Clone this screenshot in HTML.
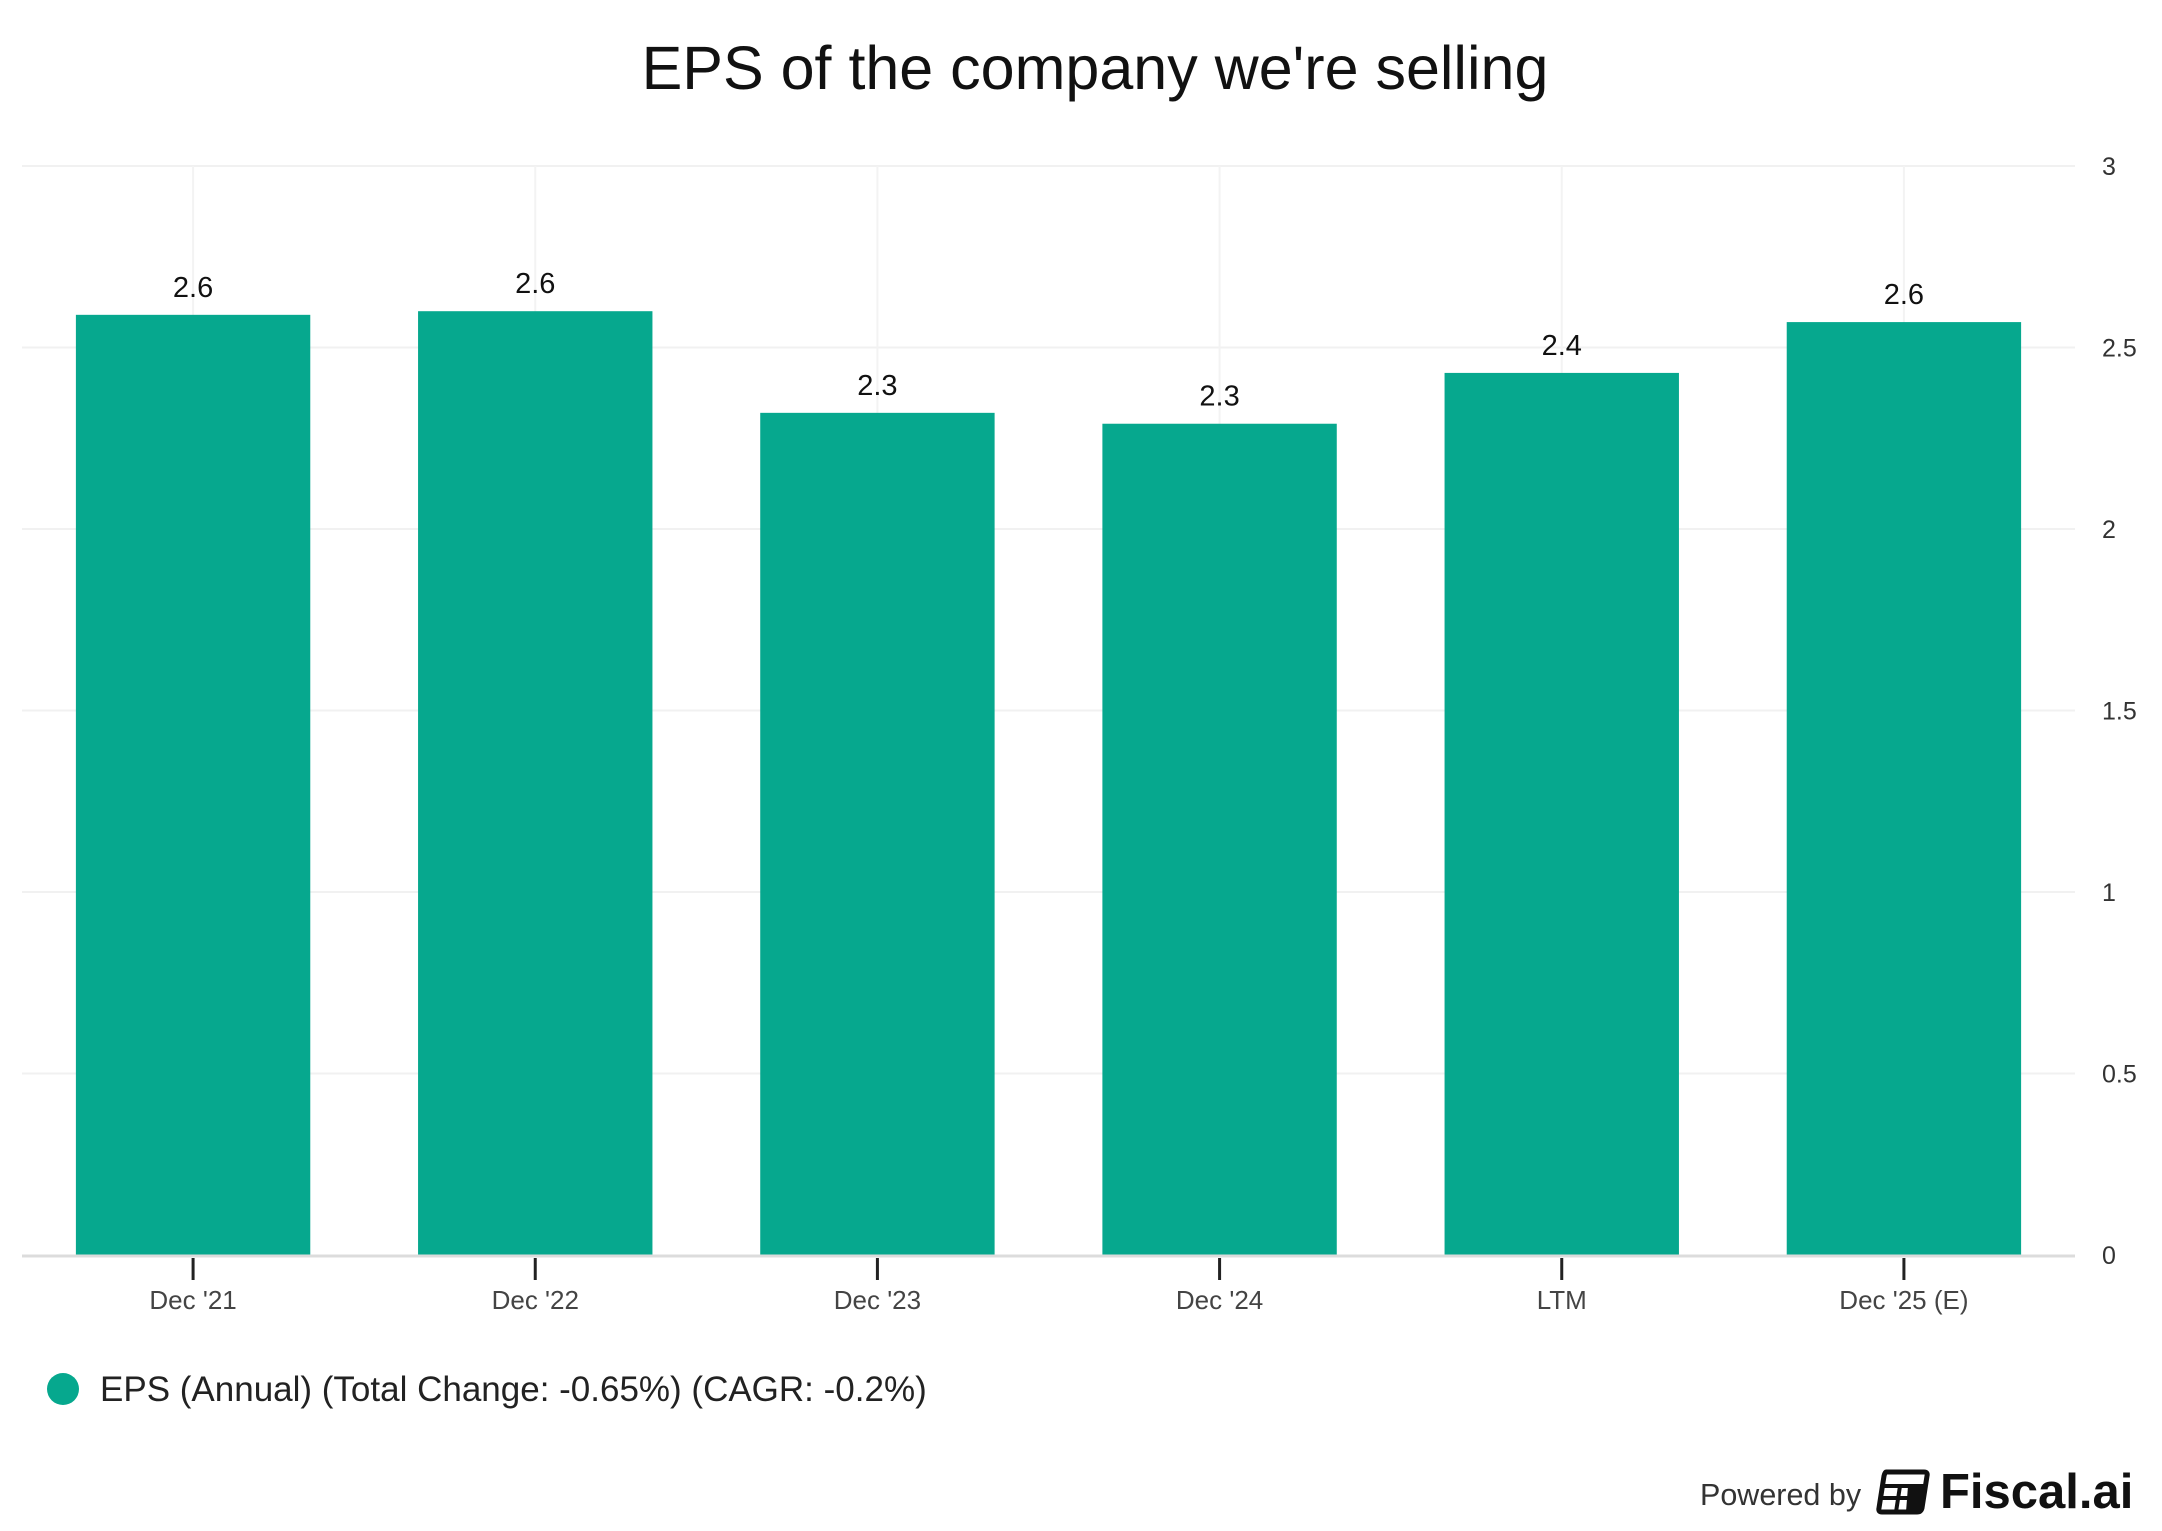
<!DOCTYPE html>
<html><head><meta charset="utf-8"><style>
html,body{margin:0;padding:0;background:#fff;}
body{width:2162px;height:1526px;overflow:hidden;font-family:"Liberation Sans",Arial,sans-serif;}
</style></head><body>
<svg id="chart" width="2162" height="1526" xmlns="http://www.w3.org/2000/svg" font-family="Liberation Sans, Arial, sans-serif">
<text x="1095" y="89" text-anchor="middle" font-size="61" fill="#111">EPS of the company we're selling</text>
<g id="grid"></g><g id="bars"></g><g id="axes"></g>
<g>
<circle cx="63" cy="1389" r="16" fill="#06a88e"/>
<text x="100" y="1401" font-size="35" fill="#222">EPS (Annual) (Total Change: -0.65%) (CAGR: -0.2%)</text>
</g>
<text x="1700" y="1505" font-size="30.5" fill="#333">Powered by</text>
<g transform="translate(1878,1470)">
<path d="M8 2 H46 Q50 2 49 6 L44 38 Q43 42 39 42 H4 Q0 42 1 38 L6 6 Q7 2 8 2 Z" fill="none" stroke="#111" stroke-width="5"/>
<path d="M6 16 H47 M4 28 H45 M22 16 L18 42 M34 16 L30 42" stroke="#111" stroke-width="4" fill="none"/>
<path d="M30 16 H47 L44 42 H28 Z" fill="#111"/>
</g>
<text x="1940" y="1508" font-size="49" font-weight="bold" fill="#111">Fiscal.ai</text>
</svg>
<script>
const categories=["Dec '21","Dec '22","Dec '23","Dec '24","LTM","Dec '25 (E)"];
const values=[2.59,2.60,2.32,2.29,2.43,2.57];
const valueLabels=["2.6","2.6","2.3","2.3","2.4","2.6"];
const yTicks=[0,0.5,1,1.5,2,2.5,3];
const yTickLabels=["0","0.5","1","1.5","2","2.5","3"];
const NS="http://www.w3.org/2000/svg";
const L=22,R=2075,B=1255,T=166,YMAX=3;
const step=(R-L)/categories.length, bw=step*0.685;
const y=v=>B-(v/YMAX)*(B-T);
const xc=i=>L+step*(i+0.5);
function mk(tag,attrs,parent){const e=document.createElementNS(NS,tag);for(const k in attrs)e.setAttribute(k,attrs[k]);parent.appendChild(e);return e;}
const grid=document.getElementById('grid'),bars=document.getElementById('bars'),axes=document.getElementById('axes');
yTicks.forEach((t,i)=>{
 if(t>0){const g=mk('line',{x1:L,x2:R,y1:y(t),y2:y(t),stroke:'#f1f1f1','stroke-width':2},grid);
 
 }
 const tx=mk('text',{x:2102,y:y(t)+9,'font-size':25,fill:'#333'},axes);tx.textContent=yTickLabels[i];
 
 
});
categories.forEach((c,i)=>{
 const vg=mk('line',{x1:xc(i),x2:xc(i),y1:T,y2:B,stroke:'#f3f3f3','stroke-width':2},grid);
 
 
 const r=mk('rect',{x:xc(i)-bw/2,y:y(values[i]),width:bw,height:B-y(values[i]),fill:'#06a88e'},bars);
 
 
 const vl=mk('text',{x:xc(i),y:y(values[i])-18,'text-anchor':'middle','font-size':29,fill:'#111'},bars);vl.textContent=valueLabels[i];
 
 
 const tk=mk('line',{x1:xc(i),x2:xc(i),y1:B+3,y2:B+25,stroke:'#222','stroke-width':3},axes);
 
 
 const xl=mk('text',{x:xc(i),y:1309,'text-anchor':'middle','font-size':26,fill:'#444'},axes);xl.textContent=c;
 
 
});
const base=mk('line',{x1:L,x2:R,y1:B+1,y2:B+1,stroke:'#dcdcdc','stroke-width':3},axes);


</script>
</body></html>
